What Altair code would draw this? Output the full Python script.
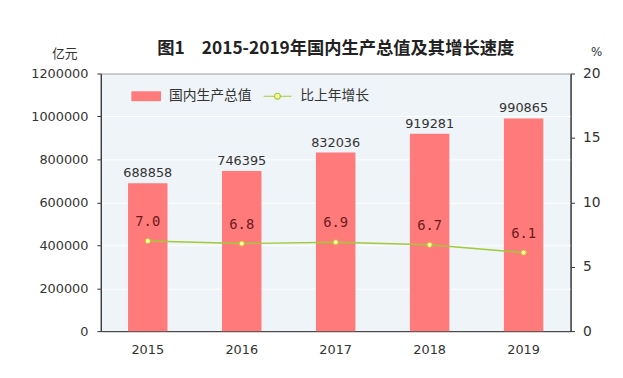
import altair as alt
import pandas as pd

years = ["2015", "2016", "2017", "2018", "2019"]
gdp = [688858, 746395, 832036, 919281, 990865]
growth = [7.0, 6.8, 6.9, 6.7, 6.1]
bar_name = "国内生产总值"
line_name = "比上年增长"
title_text = "图1　2015-2019年国内生产总值及其增长速度"

df = pd.DataFrame({
    "year": years,
    "gdp": gdp,
    "growth": growth,
    "s1": [bar_name] * len(years),
    "s2": [line_name] * len(years),
})

NUM_FONT = "DejaVu Sans"
CJK_FONT = "Noto Sans CJK SC"

base = alt.Chart(df).encode(
    x=alt.X(
        "year:N",
        title=None,
        scale=alt.Scale(paddingInner=0, paddingOuter=0),
        axis=alt.Axis(labelAngle=0, ticks=False, labelPadding=13, labelFont=NUM_FONT,
                      labelFontSize=13, labelColor="#333", domainColor="#333"),
    )
)

y_left = alt.Y(
    "gdp:Q",
    scale=alt.Scale(domain=[0, 1200000]),
    axis=alt.Axis(
        values=[0, 200000, 400000, 600000, 800000, 1000000, 1200000],
        format="d", title="亿元", titleAngle=0, titleX=-37, titleY=-20,
        titleAlign="center", titleBaseline="middle", titleFont=CJK_FONT,
        titleFontSize=13, titleFontWeight="normal", titleColor="#333",
        labelFont=NUM_FONT, labelFontSize=13, labelColor="#333", labelPadding=9,
        tickSize=4, tickColor="#333", domainColor="#333",
        grid=True, gridColor="#ffffff", gridWidth=1,
    ),
)

bars = base.mark_bar(size=40).encode(
    y=y_left,
    color=alt.Color(
        "s1:N",
        scale=alt.Scale(domain=[bar_name], range=["#ff7b7b"]),
        legend=alt.Legend(
            title=None, orient="none", legendX=35, legendY=12, direction="horizontal",
            symbolType="M-1.5,-0.5H1.5V0.5H-1.5Z", symbolSize=400, symbolOpacity=1,
            labelFont=CJK_FONT, labelFontSize=14, labelColor="#333", labelOffset=12,
        ),
    ),
)

bar_text = base.mark_text(baseline="bottom", dy=-3, font=NUM_FONT, fontSize=13, color="#333").encode(
    y=alt.Y("gdp:Q"),
    text=alt.Text("gdp:Q", format="d"),
)

y_right = alt.Y(
    "growth:Q",
    scale=alt.Scale(domain=[0, 20]),
    axis=alt.Axis(
        orient="right", values=[0, 5, 10, 15, 20], title="%", titleAngle=0,
        titleX=26, titleY=-22, titleAlign="center", titleBaseline="middle",
        titleFont=NUM_FONT, titleFontSize=12, titleFontWeight="normal", titleColor="#333",
        labelFont=NUM_FONT, labelFontSize=14, labelColor="#333", labelPadding=8,
        tickSize=4, tickColor="#333", domainColor="#333", grid=False,
    ),
)

line = base.mark_line(strokeWidth=1.5).encode(
    y=y_right,
    color=alt.Color(
        "s2:N",
        scale=alt.Scale(domain=[line_name], range=["#a2c93a"]),
        legend=alt.Legend(
            title=None, orient="none", legendX=168, legendY=12, direction="horizontal",
            symbolType="M-1.4,0H-0.3M0.3,0H1.4M-0.3,0A0.3,0.3 0 1,1 0.3,0A0.3,0.3 0 1,1 -0.3,0Z",
            symbolSize=400, symbolStrokeWidth=1.2, symbolFillColor="#ffff99",
            labelFont=CJK_FONT, labelFontSize=14, labelColor="#333", labelOffset=12,
        ),
    ),
)

pts = base.mark_point(filled=True, size=28, fill="#ffff99", stroke="#c8b43c", strokeWidth=1, opacity=1).encode(
    y=alt.Y("growth:Q"),
)

line_text = base.mark_text(baseline="bottom", dy=-12, font="DejaVu Sans Mono", fontSize=14, color="#6b1a1a").encode(
    y=alt.Y("growth:Q"),
    text=alt.Text("growth:Q", format=".1f"),
)

chart = alt.layer(
    alt.layer(bars, bar_text),
    alt.layer(line, pts, line_text),
).resolve_scale(y="independent", color="independent").resolve_legend(color="independent").properties(
    width=476,
    height=261,
    title=alt.Title(title_text, font=CJK_FONT, fontSize=17.5, fontWeight="bold", color="#222",
                    anchor="middle", offset=-12),
    autosize=alt.AutoSizeParams(type="none"),
    padding={"left": 94, "top": 64, "right": 45, "bottom": 37},
    background="#ffffff",
).configure_view(fill="#eef4f8", stroke="#333", strokeWidth=1)

chart.save("out.html", embed_options={"renderer": "svg", "actions": False})
